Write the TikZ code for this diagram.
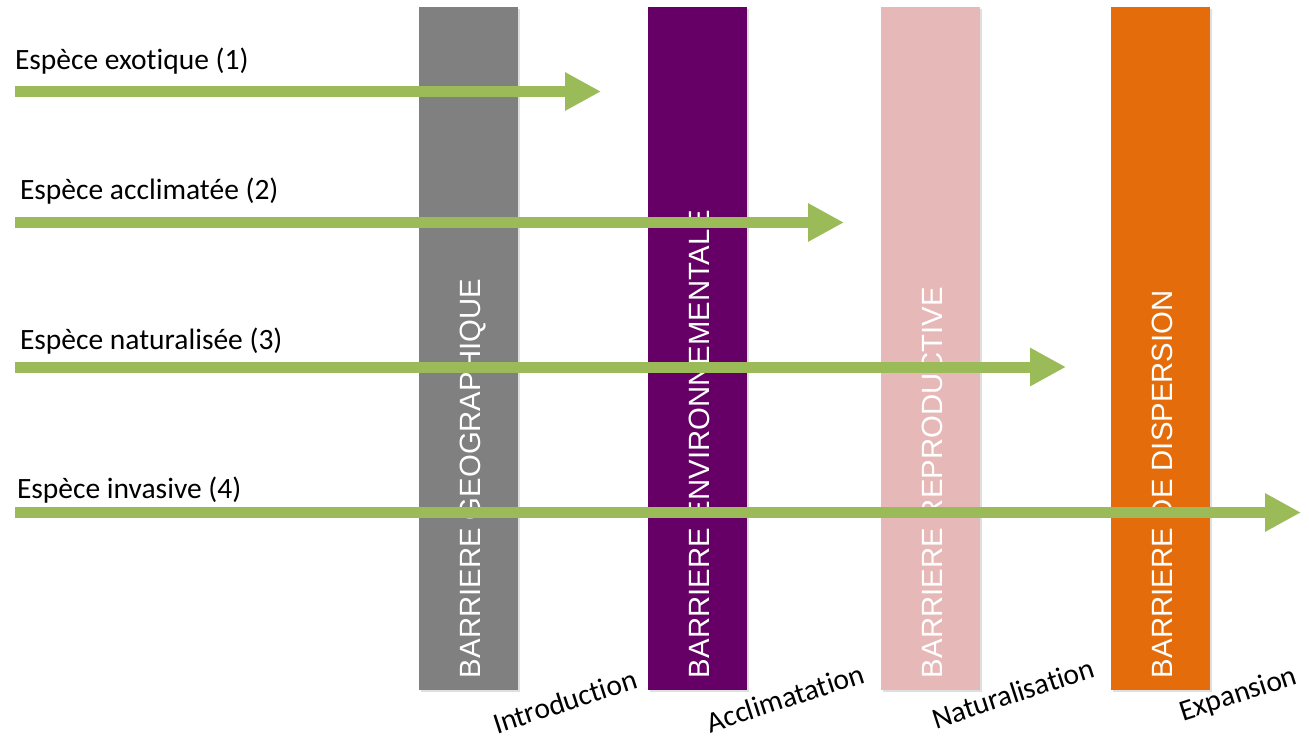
\documentclass[tikz,border=0pt]{standalone}
\usepackage{fontspec}
\setmainfont{Carlito}[Ligatures=NoCommon]
\newfontfamily\barfont{Liberation Sans}
\usetikzlibrary{arrows.meta,calc,shadows}
\definecolor{geogrey}{HTML}{808080}
\definecolor{envpurple}{HTML}{660066}
\definecolor{repropink}{HTML}{E6B8B7}
\definecolor{disporange}{HTML}{E46C0A}
\definecolor{leafgreen}{HTML}{9BBB59}
\begin{document}
\begin{tikzpicture}
[x=1pt,y=-1pt,%
  every node/.style={inner sep=0pt,outer sep=0pt},%
  barrier/.style={minimum width=99pt,minimum height=683pt,%
    drop shadow={opacity=0.25,shadow xshift=2pt,shadow yshift=-2pt}},%
  bartext/.style={rotate=90,anchor=base west,text=white,%
    font=\barfont\fontsize{29.3}{32}\selectfont},%
  species/.style={anchor=base west,font=\fontsize{29.5}{31}\selectfont},%
  stage/.style={anchor=base west,rotate=18,font=\fontsize{29.5}{31}\selectfont},%
  flow/.style={line width=11pt,draw=leafgreen,-{Triangle[length=36pt,width=36pt]}}]
\useasboundingbox (0,0) rectangle (1309,739);
% barrieres
\node (geo) [barrier,fill=geogrey] at (468.5,348.5) {};
\node (env) [barrier,fill=envpurple] at (697.5,348.5) {};
\node (repro) [barrier,fill=repropink] at (930.5,348.5) {};
\node (disp) [barrier,fill=disporange] at (1160.5,348.5) {};
\node (geotxt) [bartext] at ($(geo.south)+(11.5,-12)$) {BARRIERE GEOGRAPHIQUE};
\node (envtxt) [bartext] at ($(env.south)+(12,-12)$) {BARRIERE ENVIRONNEMENTALE};
\node (reprotxt) [bartext] at ($(repro.south)+(12,-12)$) {BARRIERE REPRODUCTIVE};
\node (disptxt) [bartext] at ($(disp.south)+(12,-12)$) {BARRIERE DE DISPERSION};
% especes
\node (exo) [species] at (15,69) {Espèce exotique (1)};
\node (accl) [species] at (20,199) {Espèce acclimatée (2)};
\node (nat) [species] at (20,349) {Espèce naturalisée (3)};
\node (inv) [species] at (17,498) {Espèce invasive (4)};
\coordinate (exoS) at (15,91.5);
\coordinate (exoE) at (601,91.5);
\coordinate (acclS) at (15,222.5);
\coordinate (acclE) at (844,222.5);
\coordinate (natS) at (15,367);
\coordinate (natE) at (1066,367);
\coordinate (invS) at (15,512.5);
\coordinate (invE) at (1301,512.5);
\draw[flow] (exoS) -- (exoE);
\draw[flow] (acclS) -- (acclE);
\draw[flow] (natS) -- (natE);
\draw[flow] (invS) -- (invE);
% etapes
\node (intro) [stage] at (497,734) {Introduction};
\node (acclim) [stage] at (710,733) {Acclimatation};
\node (natur) [stage] at (936,729) {Naturalisation};
\node (expan) [stage] at (1183,721) {Expansion};
\end{tikzpicture}
\end{document}
